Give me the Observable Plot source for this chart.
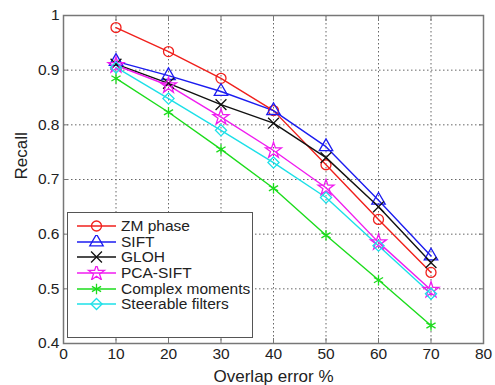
<!DOCTYPE html>
<html>
<head>
<meta charset="utf-8">
<script src="https://cdn.jsdelivr.net/npm/d3@7"></script>
<script src="https://cdn.jsdelivr.net/npm/@observablehq/plot@0.6"></script>
<style>
  html, body { margin: 0; padding: 0; background: #fff; }
  #wrap { position: relative; width: 495px; height: 385px; font-family: "Liberation Sans", Arial, sans-serif; }
  #legend { position: absolute; left: 67px; top: 212px; width: 186px; height: 126px; border: 1px solid #555; background: #fff; box-sizing: border-box; padding-top: 5px; }
  .row { display: flex; align-items: center; height: 15.7px; font-size: 15.5px; color: #222; }
  .row svg { margin-left: 9px; margin-right: 5px; }
</style>
</head>
<body>
<div id="wrap"></div>
<script>
const overlap = [10, 20, 30, 40, 50, 60, 70];
const seriesNames = ["ZM phase", "SIFT", "GLOH", "PCA-SIFT", "Complex moments", "Steerable filters"];
const zmPhase        = [0.978, 0.934, 0.885, 0.826, 0.727, 0.627, 0.530];
const sift           = [0.916, 0.890, 0.861, 0.826, 0.760, 0.662, 0.560];
const gloh           = [0.911, 0.876, 0.837, 0.803, 0.740, 0.650, 0.548];
const pcaSift        = [0.909, 0.872, 0.814, 0.753, 0.685, 0.585, 0.498];
const complexMoments = [0.885, 0.823, 0.755, 0.684, 0.598, 0.516, 0.433];
const steerable      = [0.905, 0.848, 0.790, 0.731, 0.667, 0.579, 0.491];
const seriesColors = ["#f0201c", "#1c1cf0", "#111111", "#f01cf0", "#1cdc1c", "#1ce0e8"];
const seriesSymbols = ["circle", "triangle", "times", "star", "asterisk", "diamond2"];
const xTicks = [0, 10, 20, 30, 40, 50, 60, 70, 80];
const yTicks = [0.4, 0.5, 0.6, 0.7, 0.8, 0.9, 1];
const yTickLabels = ["0.4", "0.5", "0.6", "0.7", "0.8", "0.9", "1"];

const allValues = [zmPhase, sift, gloh, pcaSift, complexMoments, steerable];
const data = [];
seriesNames.forEach((name, i) => {
  overlap.forEach((x, j) => data.push({series: name, x, y: allValues[i][j]}));
});

const color = {domain: seriesNames, range: seriesColors};
const symbol = {domain: seriesNames, range: seriesSymbols};

const chart = Plot.plot({
  width: 495,
  height: 385,
  marginLeft: 63,
  marginRight: 12,
  marginTop: 15,
  marginBottom: 42,
  style: {fontFamily: "Liberation Sans, Arial, sans-serif", fontSize: "15.5px", color: "#222", background: "#fff"},
  x: {domain: [0, 80], ticks: xTicks, label: null},
  y: {domain: [0.4, 1], ticks: yTicks, label: null},
  color,
  symbol,
  marks: [
    Plot.gridX(xTicks.slice(1, -1), {stroke: "#555", strokeOpacity: 0.9, strokeDasharray: "1.5,2.5", strokeWidth: 1}),
    Plot.gridY(yTicks.slice(1, -1), {stroke: "#555", strokeOpacity: 0.9, strokeDasharray: "1.5,2.5", strokeWidth: 1}),
    Plot.frame({stroke: "#777", strokeWidth: 1.5}),
    Plot.axisX({ticks: xTicks, tickSize: -5, tickPadding: 9, stroke: "#777", fontSize: 15.5}),
    Plot.axisX({anchor: "top", ticks: xTicks, tickSize: -5, tickFormat: () => "", stroke: "#777"}),
    Plot.axisY({ticks: yTicks, tickSize: -5, tickPadding: 9, stroke: "#777", fontSize: 15.5,
      tickFormat: (d) => yTickLabels[yTicks.indexOf(d)] ?? d}),
    Plot.axisY({anchor: "right", ticks: yTicks, tickSize: -5, tickFormat: () => "", stroke: "#777"}),
    Plot.line(data, {x: "x", y: "y", z: "series", stroke: "series", strokeWidth: 1.4}),
    Plot.dot(data, {x: "x", y: "y", stroke: "series", symbol: "series", r: 5, strokeWidth: 1.3, fill: "none"}),
    Plot.text(["Overlap error %"], {frameAnchor: "bottom", dy: 38, fontSize: 17, fill: "#222"}),
    Plot.text(["Recall"], {frameAnchor: "left", dx: -42, rotate: -90, fontSize: 17, fill: "#222"})
  ]
});

const wrap = document.getElementById("wrap");
wrap.appendChild(chart);

const legend = document.createElement("div");
legend.id = "legend";
seriesNames.forEach((name, i) => {
  const row = document.createElement("div");
  row.className = "row";
  const svg = d3.create("svg").attr("width", 39).attr("height", 14);
  svg.append("line").attr("x1", 0).attr("x2", 39).attr("y1", 7).attr("y2", 7)
    .attr("stroke", seriesColors[i]).attr("stroke-width", 1.4);
  const symMap = {circle: d3.symbolCircle, triangle: d3.symbolTriangle, times: d3.symbolTimes,
    star: d3.symbolStar, asterisk: d3.symbolAsterisk, diamond2: d3.symbolDiamond2};
  svg.append("path").attr("transform", "translate(19.5,7)")
    .attr("d", d3.symbol(symMap[seriesSymbols[i]], 78.5)())
    .attr("fill", "none").attr("stroke", seriesColors[i]).attr("stroke-width", 1.3);
  row.appendChild(svg.node());
  const span = document.createElement("span");
  span.textContent = name;
  row.appendChild(span);
  legend.appendChild(row);
});
wrap.appendChild(legend);
</script>
</body>
</html>
